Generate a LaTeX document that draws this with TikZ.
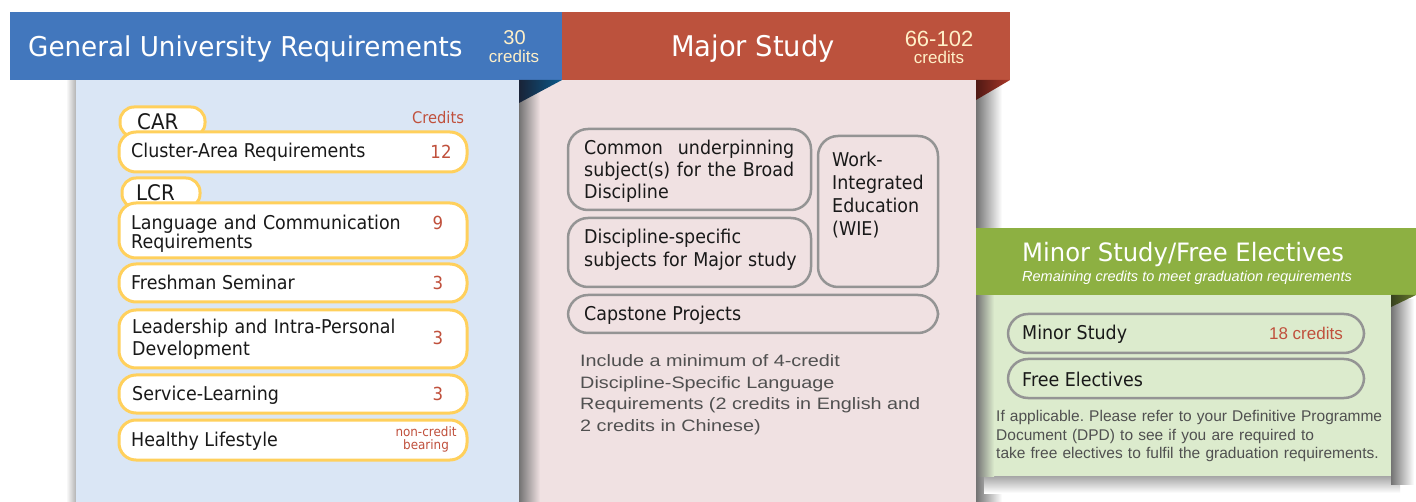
\documentclass[tikz,border=0pt]{standalone}
\usepackage{fontspec}
\newfontfamily\tah[FakeStretch=0.92]{DejaVu Sans}
\newfontfamily\tahT[FakeStretch=0.96]{DejaVu Sans}
\newfontfamily\ari{Liberation Sans}
\newfontfamily\ariw[FakeStretch=1.2]{Liberation Sans}
\definecolor{gurblue}{RGB}{66,119,189}
\definecolor{gurlight}{RGB}{218,230,245}
\definecolor{majred}{RGB}{188,82,61}
\definecolor{majlight}{RGB}{240,225,226}
\definecolor{mingreen}{RGB}{141,176,66}
\definecolor{minlight}{RGB}{220,235,205}
\definecolor{ybord}{RGB}{255,208,92}
\definecolor{credred}{RGB}{192,80,60}
\definecolor{cream}{RGB}{255,240,200}
\definecolor{gbord}{RGB}{148,148,148}
\definecolor{txt}{RGB}{25,25,25}
\definecolor{notegray}{RGB}{80,80,80}
\definecolor{bfoldL}{RGB}{25,35,55}
\definecolor{bfoldR}{RGB}{10,90,140}
\definecolor{rfoldL}{RGB}{80,25,20}
\definecolor{rfoldR}{RGB}{170,55,40}
\definecolor{gfoldL}{RGB}{55,65,30}
\definecolor{gfoldR}{RGB}{105,125,45}
\frenchspacing
\begin{document}
\begin{tikzpicture}[x=1pt,y=-1pt,
  ybox/.style={draw=ybord,line width=3pt,fill=white,rounded corners=17pt,inner sep=0pt},
  ytab/.style={draw=ybord,line width=3pt,fill=white,rounded corners=14pt,inner sep=0pt},
  gbox/.style={draw=gbord,line width=2.5pt,rounded corners=20pt,inner sep=0pt},
  lbl/.style={anchor=base west,inner sep=0pt,font=\tah\fontsize{19}{22}\selectfont,text=txt},
  tablbl/.style={anchor=base west,inner sep=0pt,font=\tah\fontsize{21.5}{23}\selectfont,text=txt},
  crnum/.style={anchor=base,inner sep=0pt,font=\tah\fontsize{18}{20}\selectfont,text=credred},
  hdtitle/.style={inner sep=0pt,font=\tahT\fontsize{27.3}{30}\selectfont,text=white},
  hdnum/.style={anchor=base,inner sep=0pt,text=cream},
  note/.style={anchor=base west,inner sep=0pt,align=left}]
\fill[white] (0,0) rectangle (1416,502);
\useasboundingbox (0,0) rectangle (1416,502);
% panels and shadows
\shade[left color=white,right color=black!30] (66,80) rectangle (76,502);
\fill[gurlight] (76,80) rectangle (519,502);
\fill[majlight] (519,80) rectangle (976,502);
\shade[left color=black!55,right color=majlight] (519,80) rectangle (540,502);
\shade[left color=black!55,right color=white] (976,80) rectangle (1002,502);
\shade[top color=black!35,bottom color=white] (984,476) rectangle (1400,493);
\shade[left color=black!55,right color=white] (1391,300) rectangle (1414,484);
\fill[minlight] (976,295) rectangle (1391,476);
\shade[left color=black!55,right color=minlight] (976,295) rectangle (994,476);
% headers
\fill[gurblue] (10,12) rectangle (562,80);
\fill[majred] (562,12) rectangle (1010,80);
\fill[mingreen] (976,228) rectangle (1416,295);
\shade[left color=bfoldL,right color=bfoldR] (519,80) -- (562,80) -- (519,103) -- cycle;
\shade[left color=rfoldL,right color=rfoldR] (976,80) -- (1010,80) -- (976,100) -- cycle;
\shade[left color=gfoldL,right color=gfoldR] (1391,295) -- (1416,295) -- (1391,307) -- cycle;
% header texts
\node[hdtitle,anchor=base west] (gurt) at (28,56.7) {General University Requirements};
\node[hdnum,font=\ari\fontsize{20}{22}\selectfont] (gurn) at (514.5,44.3) {30};
\node[hdnum,font=\ari\fontsize{17}{19}\selectfont] (gurc) at (514,62.3) {credits};
\node[hdtitle,anchor=base,font=\tahT\fontsize{28.5}{30}\selectfont] (majt) at (753,56.7) {Major Study};
\node[hdnum,font=\ari\fontsize{22}{24}\selectfont] (majn) at (939,46.7) {66-102};
\node[hdnum,font=\ari\fontsize{17}{19}\selectfont] (majc) at (939,63.3) {credits};
\node[anchor=base west,inner sep=0pt,font=\tahT\fontsize{25.3}{27}\selectfont,text=white] (mint) at (1022,261.7) {Minor Study/Free Electives};
\node[anchor=base west,inner sep=0pt,font=\ari\itshape\fontsize{14.5}{16}\selectfont,text=white] (mins) at (1022,281.7) {Remaining credits to meet graduation requirements};
% GUR content
\node[ytab,minimum width=85pt,minimum height=30pt] (cartab) at (162.5,122) {};
\node[tablbl] (cartx) at (137,129.8) {CAR};
\node[ybox,minimum width=348pt,minimum height=40pt] (carbox) at (293,152) {};
\node[lbl] (cart) at (131,157.3) {Cluster-Area Requirements};
\node[crnum] (carn) at (441,158.3) {12};
\node[anchor=base,inner sep=0pt,font=\tah\fontsize{16}{18}\selectfont,text=credred] (credh) at (438,123.3) {Credits};
\node[ytab,minimum width=78pt,minimum height=30pt] (lcrtab) at (161,193) {};
\node[tablbl] (lcrtx) at (136,200.5) {LCR};
\node[ybox,minimum width=348pt,minimum height=55pt] (lcrbox) at (293,230.5) {};
\node[lbl,text width=290pt,align=left,font=\tah\fontsize{19}{19.3}\selectfont] (lcrt) at (131,229.3) {Language and Communication\\Requirements};
\node[crnum] (lcrn) at (438,229.3) {9};
\node[ybox,minimum width=348pt,minimum height=38pt] (fsbox) at (293,283) {};
\node[lbl] (fst) at (131,290) {Freshman Seminar};
\node[crnum] (fsn) at (438,290) {3};
\node[ybox,minimum width=348pt,minimum height=58pt] (lipbox) at (293,339) {};
\node[lbl,text width=290pt,align=left,font=\tah\fontsize{19}{22.3}\selectfont] (lipt) at (132,333.3) {Leadership and Intra-Personal\\Development};
\node[crnum] (lipn) at (438,345) {3};
\node[ybox,minimum width=348pt,minimum height=38pt] (slbox) at (293,394) {};
\node[lbl] (slt) at (132,400) {Service-Learning};
\node[crnum] (sln) at (438,400) {3};
\node[ybox,minimum width=348pt,minimum height=40pt] (hlbox) at (293,440) {};
\node[lbl] (hlt) at (131,446) {Healthy Lifestyle};
\node[anchor=base,inner sep=0pt,font=\tah\fontsize{13}{14}\selectfont,text=credred] (hln1) at (426,436.7) {non-credit};
\node[anchor=base,inner sep=0pt,font=\tah\fontsize{13}{14}\selectfont,text=credred] (hln2) at (426,449.5) {bearing};
% Major content
\node[gbox,minimum width=243pt,minimum height=81pt] (cusbox) at (689.5,169.5) {};
\node[lbl,text width=212pt,align=left,font=\tah\fontsize{19}{22}\selectfont] (cust) at (584,155) {\makebox[210pt][l]{Common\hfill underpinning}\\\makebox[210pt][l]{subject(s)\hfill for\hfill the\hfill Broad}\\Discipline};
\node[gbox,minimum width=243pt,minimum height=69pt] (dsbox) at (689.5,252.5) {};
\node[lbl,text width=220pt,align=left,font=\tah\fontsize{19}{23.4}\selectfont] (dst) at (584,243.3) {Discipline-specific\\subjects for Major study};
\node[gbox,minimum width=120pt,minimum height=151pt] (wiebox) at (878,211.5) {};
\node[lbl,text width=100pt,align=left,font=\tah\fontsize{19}{22.8}\selectfont] (wiet) at (832,166.7) {Work-\\Integrated\\Education\\(WIE)};
\node[gbox,minimum width=370pt,minimum height=38pt] (capbox) at (753,314) {};
\node[lbl] (capt) at (584,320.5) {Capstone Projects};
\node[note,text width=380pt,font=\ariw\fontsize{16.5}{21.6}\selectfont,text=notegray] (majnote) at (580,366.7) {Include a minimum of 4-credit\\Discipline-Specific Language\\Requirements (2 credits in English and\\2 credits in Chinese)};
% Minor content
\node[gbox,minimum width=356pt,minimum height=39pt] (msbox) at (1186,333.5) {};
\node[lbl] (mst) at (1022,340) {Minor Study};
\node[anchor=base east,inner sep=0pt,font=\ari\fontsize{17}{19}\selectfont,text=credred] (msn) at (1343,340) {18 credits};
\node[gbox,minimum width=356pt,minimum height=39pt] (febox) at (1186,378.5) {};
\node[lbl] (fet) at (1022,386) {Free Electives};
\node[note,text width=410pt,font=\ari\fontsize{15.5}{18.3}\selectfont,text=notegray] (minnote) at (996,421.7) {If applicable. Please refer to your Definitive Programme\\Document (DPD) to see if you are required to\\take free electives to fulfil the graduation requirements.};
\end{tikzpicture}
\end{document}
